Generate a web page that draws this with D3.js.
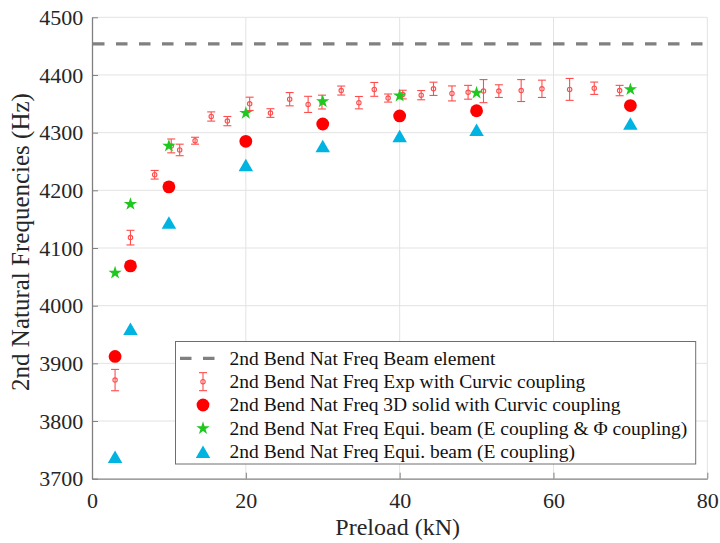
<!DOCTYPE html>
<html>
<head>
<meta charset="utf-8">
<script src="https://cdn.jsdelivr.net/npm/d3@7"></script>
<style>
  html, body { margin: 0; padding: 0; background: #fff; }
  svg text { font-family: "Liberation Serif", "Times New Roman", serif; }
</style>
</head>
<body>
<svg id="chart" width="720" height="543"></svg>
<script>
// Preload levels of the numerical models (kN)
const modelPreload = [3, 5, 10, 20, 30, 40, 50, 70];
// 3D solid model with curvic coupling (Hz)
const solid3D = [3912, 4069, 4206, 4285, 4315, 4329, 4338, 4347];
// Equivalent beam, E coupling & Phi coupling (Hz)
const equiBeamEPhi = [4057, 4176, 4277, 4334, 4354, 4364, 4369, 4375];
// Equivalent beam, E coupling only (Hz)
const equiBeamE = [3738, 3960, 4144, 4244, 4277, 4294, 4305, 4316];
// Beam element reference frequency (Hz)
const beamElement = 4454;

// Experimental measurements with curvic coupling
const expPreload = [3, 5, 8.15, 10.3, 11.4, 13.4, 15.5, 17.6, 20.5, 23.2, 25.7, 28.1, 29.9, 32.4,
  34.7, 36.7, 38.5, 40.4, 42.8, 44.4, 46.8, 48.9, 50.9, 52.9, 55.8, 58.5, 62.1, 65.3, 68.6];
const expFreq = [3871, 4118, 4227, 4277, 4270, 4286, 4328, 4320, 4350, 4334, 4358, 4349, 4353, 4373,
  4352, 4375, 4360, 4366, 4365, 4376, 4368, 4370, 4372, 4372, 4373, 4376, 4375, 4377, 4373];
const expErr = [18.5, 12.7, 7.5, 12, 10, 6, 8, 8, 11.5, 7.5, 11.5, 14, 12, 7.8,
  10.7, 12, 7, 7.5, 8, 11.5, 13, 12, 20, 11, 19, 15, 19, 10.7, 9];

const xTicks = [0, 20, 40, 60, 80];
const yTicks = [3700, 3800, 3900, 4000, 4100, 4200, 4300, 4400, 4500];

const legendLabels = [
  "2nd Bend Nat Freq Beam element",
  "2nd Bend Nat Freq Exp with Curvic coupling",
  "2nd Bend Nat Freq 3D solid with Curvic coupling",
  "2nd Bend Nat Freq Equi. beam (E coupling & \u03A6 coupling)",
  "2nd Bend Nat Freq Equi. beam (E coupling)"
];

const FONT = '"Liberation Serif", "Times New Roman", serif';
const colors = {
  beam: "#808080",
  exp: "#ff4d4d",
  solid: "#ff0000",
  phi: "#1ec81e",
  e: "#00b4e1",
  axis: "#808080",
  grid: "#e3e3e3",
  text: "#262626"
};

const svg = d3.select("#chart");
const plot = { left: 92, right: 707.3, top: 17.3, bottom: 478.7 };

const x = d3.scaleLinear().domain([0, 80]).range([plot.left, plot.right]);
const y = d3.scaleLinear().domain([3700, 4500]).range([plot.bottom, plot.top]);

// Grid
const grid = svg.append("g");
grid.selectAll("line.gx").data(xTicks.slice(1)).join("line")
  .attr("x1", d => x(d)).attr("x2", d => x(d))
  .attr("y1", plot.top).attr("y2", plot.bottom)
  .attr("stroke", colors.grid).attr("stroke-width", 1);
grid.selectAll("line.gy").data(yTicks.slice(1)).join("line")
  .attr("x1", plot.left).attr("x2", plot.right)
  .attr("y1", d => y(d)).attr("y2", d => y(d))
  .attr("stroke", colors.grid).attr("stroke-width", 1);

// Axes (ticks pointing inward)
const xAxis = d3.axisBottom(x).tickValues(xTicks).tickFormat(d3.format("d"))
  .tickSizeInner(-6).tickSizeOuter(0).tickPadding(13.5);
const yAxis = d3.axisLeft(y).tickValues(yTicks).tickFormat(d3.format("d"))
  .tickSizeInner(-6).tickSizeOuter(0).tickPadding(8.7);

const gx = svg.append("g").attr("transform", `translate(0,${plot.bottom})`).call(xAxis);
const gy = svg.append("g").attr("transform", `translate(${plot.left},0)`).call(yAxis);
[gx, gy].forEach(g => {
  g.attr("font-family", FONT).attr("font-size", 22);
  g.select(".domain").attr("stroke", colors.axis).attr("stroke-width", 1.3);
  g.selectAll(".tick line").attr("stroke", colors.axis).attr("stroke-width", 1);
  g.selectAll(".tick text").attr("fill", colors.text);
});

// Axis titles
svg.append("text")
  .attr("x", (plot.left + plot.right) / 2 - 2).attr("y", 535)
  .attr("text-anchor", "middle").attr("fill", colors.text)
  .attr("font-size", 24).text("Preload (kN)");
svg.append("text")
  .attr("transform", "translate(28.5,242) rotate(-90)")
  .attr("text-anchor", "middle").attr("fill", colors.text)
  .attr("font-size", 25).text("2nd Natural Frequencies (Hz)");

// Beam element reference line
svg.append("line")
  .attr("x1", plot.left + 1).attr("x2", plot.right)
  .attr("y1", y(beamElement)).attr("y2", y(beamElement))
  .attr("stroke", colors.beam).attr("stroke-width", 3.3)
  .attr("stroke-dasharray", "11.5,11.5");

// Experimental points with error bars
const expData = expPreload.map((p, i) => ({ p, f: expFreq[i], e: expErr[i] }));
const capW = 4;
const eg = svg.append("g").attr("stroke", colors.exp).attr("fill", "none").attr("stroke-width", 1.1);
const expG = eg.selectAll("g").data(expData).join("g");
expG.append("line")
  .attr("x1", d => x(d.p)).attr("x2", d => x(d.p))
  .attr("y1", d => y(d.f - d.e)).attr("y2", d => y(d.f + d.e));
expG.append("line")
  .attr("x1", d => x(d.p) - capW).attr("x2", d => x(d.p) + capW)
  .attr("y1", d => y(d.f - d.e)).attr("y2", d => y(d.f - d.e));
expG.append("line")
  .attr("x1", d => x(d.p) - capW).attr("x2", d => x(d.p) + capW)
  .attr("y1", d => y(d.f + d.e)).attr("y2", d => y(d.f + d.e));
expG.append("circle")
  .attr("cx", d => x(d.p)).attr("cy", d => y(d.f)).attr("r", 2.2);

// Marker shapes
const triPath = (w, h) => `M0,${-h / 2}L${w / 2},${h / 2}L${-w / 2},${h / 2}Z`;
const starPath = d3.symbol(d3.symbolStar, 55)();

// 3D solid (red circles)
svg.append("g").selectAll("circle").data(modelPreload).join("circle")
  .attr("cx", d => x(d)).attr("cy", (d, i) => y(solid3D[i])).attr("r", 6.4)
  .attr("fill", colors.solid);

// Equivalent beam with E & Phi coupling (green stars)
svg.append("g").selectAll("path").data(modelPreload).join("path")
  .attr("transform", (d, i) => `translate(${x(d)},${y(equiBeamEPhi[i])})`)
  .attr("d", starPath).attr("fill", colors.phi);

// Equivalent beam with E coupling (blue triangles)
svg.append("g").selectAll("path").data(modelPreload).join("path")
  .attr("transform", (d, i) => `translate(${x(d)},${y(equiBeamE[i])})`)
  .attr("d", triPath(14.5, 12.5)).attr("fill", colors.e);

// Legend
const lg = svg.append("g");
const lgBox = { x: 175.5, y: 341.5, w: 520.2, h: 122.5 };
lg.append("rect").attr("x", lgBox.x).attr("y", lgBox.y)
  .attr("width", lgBox.w).attr("height", lgBox.h)
  .attr("fill", "#fff").attr("stroke", "#6e6e6e").attr("stroke-width", 1);
const rowY = i => 358.3 + i * 23.35;
const symX = 203;
lg.selectAll("text").data(legendLabels).join("text")
  .attr("x", 229.5).attr("y", (d, i) => rowY(i)).attr("dy", "0.33em")
  .attr("fill", "#111").attr("font-size", 19.5).text(d => d);

lg.append("line").attr("x1", 180).attr("x2", 226).attr("y1", rowY(0)).attr("y2", rowY(0))
  .attr("stroke", colors.beam).attr("stroke-width", 3.3).attr("stroke-dasharray", "11.5,11.5");
const le = lg.append("g").attr("stroke", colors.exp).attr("fill", "none").attr("stroke-width", 1.1);
le.append("line").attr("x1", symX).attr("x2", symX).attr("y1", rowY(1) - 9).attr("y2", rowY(1) + 9);
le.append("line").attr("x1", symX - capW).attr("x2", symX + capW).attr("y1", rowY(1) - 9).attr("y2", rowY(1) - 9);
le.append("line").attr("x1", symX - capW).attr("x2", symX + capW).attr("y1", rowY(1) + 9).attr("y2", rowY(1) + 9);
le.append("circle").attr("cx", symX).attr("cy", rowY(1)).attr("r", 2.2);
lg.append("circle").attr("cx", symX).attr("cy", rowY(2)).attr("r", 6.4).attr("fill", colors.solid);
lg.append("path").attr("transform", `translate(${symX},${rowY(3)})`).attr("d", starPath).attr("fill", colors.phi);
lg.append("path").attr("transform", `translate(${symX},${rowY(4)})`).attr("d", triPath(14.5, 12.5)).attr("fill", colors.e);

// Serif face for every label
svg.selectAll("text").attr("font-family", FONT);
</script>
</body>
</html>
